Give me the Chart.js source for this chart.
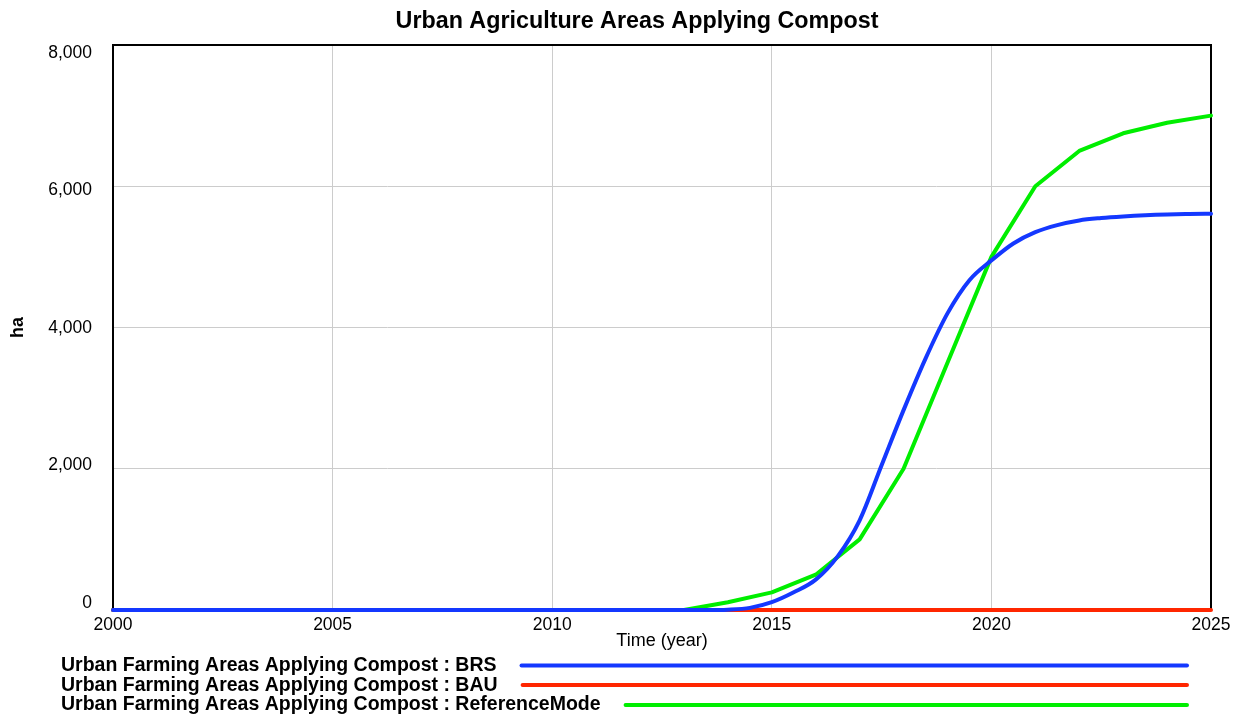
<!DOCTYPE html>
<html>
<head>
<meta charset="utf-8">
<title>Urban Agriculture Areas Applying Compost</title>
<script src="https://cdn.jsdelivr.net/npm/chart.js@4.4.0/dist/chart.umd.min.js"></script>
<style>
  html, body { margin: 0; padding: 0; background: #fff; }
  #compostChart { display: block; }
</style>
</head>
<body>
<canvas id="compostChart" width="1238" height="715"></canvas>
<script>
// Chart data.
// Yearly time axis used by the BAU and ReferenceMode runs.
const years = [2000, 2001, 2002, 2003, 2004, 2005, 2006, 2007, 2008, 2009, 2010, 2011, 2012,
  2013, 2014, 2015, 2016, 2017, 2018, 2019, 2020, 2021, 2022, 2023, 2024, 2025];

// ReferenceMode (ha)
const referenceValues = [0, 0, 0, 0, 0, 0, 0, 0, 0, 0, 0, 0, 0,
  0, 110, 250, 500, 1000, 2000, 3500, 5000, 6000, 6500, 6750, 6900, 7000];

// BAU (ha)
const bauValues = [0, 0, 0, 0, 0, 0, 0, 0, 0, 0, 0, 0, 0,
  0, 0, 0, 0, 0, 0, 0, 0, 0, 0, 0, 0, 0];

// BRS run is smooth, so it is read at half-year steps.
const brsTime = [2000, 2013, 2013.5, 2014, 2014.5, 2015, 2015.5, 2016, 2016.5, 2017, 2017.5,
  2018, 2018.5, 2019, 2019.5, 2020, 2020.5, 2021, 2021.5, 2022, 2022.5, 2023, 2023.5, 2024, 2024.5, 2025];
const brsValues = [0, 0, 0, 5, 30, 110, 250, 430, 760, 1270, 2050,
  2830, 3560, 4200, 4670, 4950, 5190, 5350, 5450, 5516, 5550, 5573, 5590, 5601, 5607, 5611];

// Axis ticks
const xTicks = [2000, 2005, 2010, 2015, 2020, 2025];
const yTicks = [0, 2000, 4000, 6000, 8000];

const seriesLabels = [
  'Urban Farming Areas Applying Compost : BRS',
  'Urban Farming Areas Applying Compost : BAU',
  'Urban Farming Areas Applying Compost : ReferenceMode'
];
const seriesColors = ['#1438ff', '#ff2600', '#00ee00'];

const FONT = "'Liberation Sans', Arial, Helvetica, sans-serif";

// Turn two arrays into {x, y} points for the linear time axis.
function toPoints(xs, ys) {
  return xs.map((x, i) => ({ x: x, y: ys[i] }));
}

// Frame, title, axis titles, y labels and the legend, drawn the way the original tool does.
const decorPlugin = {
  id: 'decor',
  beforeDatasetsDraw(chart) {
    const { ctx, chartArea } = chart;
    ctx.save();
    ctx.strokeStyle = '#000';
    ctx.lineWidth = 2;
    ctx.strokeRect(chartArea.left, chartArea.top, chartArea.right - chartArea.left, chartArea.bottom - chartArea.top);
    ctx.restore();
  },
  afterDraw(chart) {
    const { ctx, chartArea } = chart;
    const yScale = chart.scales.y;
    ctx.save();
    ctx.fillStyle = '#000';

    // title
    ctx.font = 'bold 23.3px ' + FONT;
    ctx.textAlign = 'center';
    ctx.textBaseline = 'alphabetic';
    ctx.fillText('Urban Agriculture Areas Applying Compost', 637, 28);

    // y tick labels: squeezed a little so the end labels stay inside the frame
    ctx.font = '17.5px ' + FONT;
    ctx.textAlign = 'right';
    ctx.textBaseline = 'middle';
    const h = chartArea.bottom - chartArea.top;
    yTicks.forEach((v) => {
      const px = yScale.getPixelForValue(v);
      const y = chartArea.top + 8 + (px - chartArea.top) * (h - 15) / h;
      ctx.fillText(v.toLocaleString('en-US'), chartArea.left - 21, y);
    });

    // x axis title
    ctx.font = '18px ' + FONT;
    ctx.textAlign = 'center';
    ctx.fillText('Time (year)', (chartArea.left + chartArea.right) / 2, 641);

    // y axis title
    ctx.save();
    ctx.translate(18, (chartArea.top + chartArea.bottom) / 2);
    ctx.rotate(-Math.PI / 2);
    ctx.font = 'bold 18px ' + FONT;
    ctx.fillText('ha', 0, 0);
    ctx.restore();

    // legend
    const textY = [671, 690.5, 710];
    const lineY = [665.5, 685, 705];
    ctx.font = 'bold 19.5px ' + FONT;
    ctx.textAlign = 'left';
    ctx.textBaseline = 'alphabetic';
    seriesLabels.forEach((label, i) => {
      ctx.fillStyle = '#000';
      ctx.fillText(label, 61, textY[i]);
      const start = 61 + ctx.measureText(label).width + 25;
      ctx.strokeStyle = seriesColors[i];
      ctx.lineWidth = 4;
      ctx.lineCap = 'round';
      ctx.beginPath();
      ctx.moveTo(start, lineY[i]);
      ctx.lineTo(1187, lineY[i]);
      ctx.stroke();
    });
    ctx.restore();
  }
};

const canvas = document.getElementById('compostChart');

new Chart(canvas, {
  type: 'line',
  data: {
    datasets: [
      {
        label: seriesLabels[0],
        data: toPoints(brsTime, brsValues),
        borderColor: seriesColors[0],
        cubicInterpolationMode: 'monotone',
        clip: false
      },
      {
        label: seriesLabels[1],
        data: toPoints(years, bauValues),
        borderColor: seriesColors[1],
        clip: false
      },
      {
        label: seriesLabels[2],
        data: toPoints(years, referenceValues),
        borderColor: seriesColors[2],
        clip: false
      }
    ]
  },
  options: {
    responsive: false,
    devicePixelRatio: 1,
    animation: false,
    layout: { padding: { top: 45, right: 27, left: 0, bottom: 0 } },
    elements: {
      point: { radius: 0 },
      line: { borderWidth: 4, borderCapStyle: 'round', borderJoinStyle: 'round', fill: false }
    },
    plugins: {
      legend: { display: false },
      title: { display: false },
      tooltip: { enabled: false }
    },
    scales: {
      x: {
        type: 'linear',
        min: xTicks[0],
        max: xTicks[xTicks.length - 1],
        afterFit: (scale) => { scale.height = 105; },
        afterBuildTicks: (scale) => { scale.ticks = xTicks.map(v => ({ value: v })); },
        ticks: {
          callback: (v) => String(v),
          color: '#000',
          font: { family: FONT, size: 17.5 },
          padding: 5,
          maxRotation: 0
        },
        grid: { color: '#cccccc', lineWidth: 1, drawTicks: false },
        border: { display: false }
      },
      y: {
        min: yTicks[0],
        max: yTicks[yTicks.length - 1],
        afterFit: (scale) => { scale.width = 113; },
        afterBuildTicks: (scale) => { scale.ticks = yTicks.map(v => ({ value: v })); },
        ticks: { display: false },
        grid: { color: '#cccccc', lineWidth: 1, drawTicks: false },
        border: { display: false }
      }
    }
  },
  plugins: [decorPlugin]
});
</script>
</body>
</html>
